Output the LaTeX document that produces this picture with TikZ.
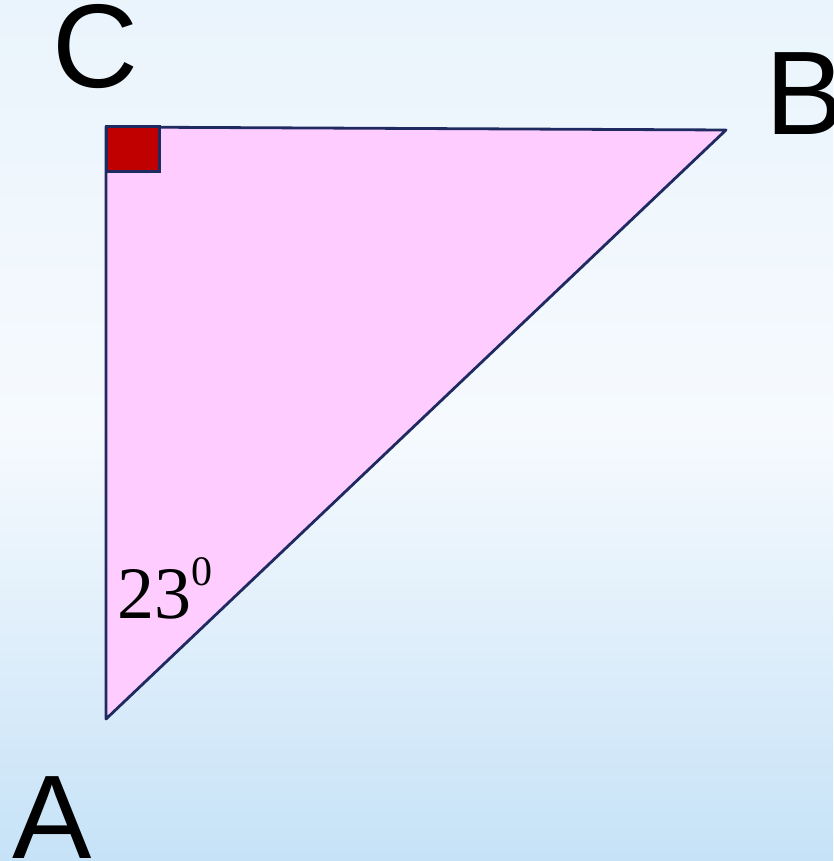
\documentclass[tikz,border=0pt]{standalone}
\usepackage{fontspec}
\setmainfont{Liberation Serif}
\setsansfont{Liberation Sans}
\usetikzlibrary{positioning}
\definecolor{bgtop}{HTML}{EAF4FC}
\definecolor{bgmid}{HTML}{F6FAFE}
\definecolor{bgbot}{HTML}{C6E2F7}
\definecolor{edgeblue}{HTML}{1F2A60}
\definecolor{tripink}{HTML}{FFCCFF}
\definecolor{markred}{HTML}{C00000}
\newcommand{\VLab}{\fontsize{119}{125}\selectfont\sffamily}
\newcommand{\ALab}{\fontsize{74}{80}\selectfont\rmfamily}

\begin{document}
\begin{tikzpicture}[x=1pt, y=-1pt,
  edge/.style={draw=edgeblue, line width=2.8pt, line join=round},
  rightmark/.style={draw=edgeblue, line width=3pt, fill=markred},
  vertexlab/.style={inner sep=0pt, anchor=base, font=\VLab, text=black},
  anglelab/.style={inner sep=0pt, anchor=base west, font=\ALab, text=black}
]

% Background.
\shade[top color=bgtop, bottom color=bgbot, middle color=bgmid]
  (0,0) rectangle (833,861);
\useasboundingbox (0,0) rectangle (833,861);

% Vertices.
\coordinate (C) at (106,127);
\coordinate (B) at (726,130);
\coordinate (A) at (106,719);

% Triangle and right angle at C.
\path[edge, fill=tripink] (A) -- (C) -- (B) -- cycle;
\draw[rightmark] (C) rectangle (159,172);

% Labels.
\node[vertexlab] (labC) at (95,88) {C};
\node[vertexlab] (labB) at (805,135) {B};
\node[vertexlab] (labA) at (52,858) {A};
\node[anglelab] (ang) at (117,618)
  {23\raisebox{33pt}{\fontsize{42}{46}\selectfont 0}};
\end{tikzpicture}
\end{document}
